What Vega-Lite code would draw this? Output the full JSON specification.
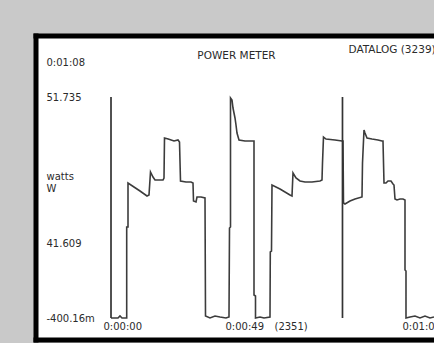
{
  "$schema": "https://vega.github.io/schema/vega-lite/v6.json",
  "width": 398.5,
  "height": 304,
  "autosize": {"type": "none"},
  "padding": {"left": 35.5, "top": 35.5, "right": 0, "bottom": 3.5},
  "background": "#c9c9c9",
  "config": {
    "view": {"fill": "white", "stroke": null},
    "axis": {
      "labelFont": "DejaVu Sans",
      "labelFontSize": 10,
      "labelColor": "#2b2b2b",
      "ticks": false,
      "tickSize": 0,
      "grid": false,
      "domainColor": "#000000",
      "domainWidth": 5,
      "domainCap": "square",
      "labelOverlap": false,
      "labelFlush": false,
      "labelBound": false
    }
  },
  "datasets": {
    "trace": [
      {"i": 1, "t": 0, "v": -0.4},
      {"i": 2, "t": 1.591, "v": -0.4},
      {"i": 3, "t": 2.045, "v": 0.72},
      {"i": 4, "t": 2.5, "v": -0.4},
      {"i": 5, "t": 3.568, "v": -0.4},
      {"i": 6, "t": 3.568, "v": 42.719},
      {"i": 7, "t": 3.864, "v": 42.719},
      {"i": 8, "t": 3.864, "v": 45.77},
      {"i": 9, "t": 6.591, "v": 45.216},
      {"i": 10, "t": 8.182, "v": 44.869},
      {"i": 11, "t": 8.636, "v": 44.938},
      {"i": 12, "t": 8.977, "v": 46.533},
      {"i": 13, "t": 9.545, "v": 46.187},
      {"i": 14, "t": 10.0, "v": 45.978},
      {"i": 15, "t": 11.818, "v": 45.978},
      {"i": 16, "t": 12.045, "v": 46.117},
      {"i": 17, "t": 12.159, "v": 48.891},
      {"i": 18, "t": 13.0, "v": 48.822},
      {"i": 19, "t": 14.318, "v": 48.683},
      {"i": 20, "t": 15.227, "v": 48.753},
      {"i": 21, "t": 15.568, "v": 48.614},
      {"i": 22, "t": 15.795, "v": 45.909},
      {"i": 23, "t": 17.045, "v": 45.84},
      {"i": 24, "t": 18.182, "v": 45.84},
      {"i": 25, "t": 18.636, "v": 45.77},
      {"i": 26, "t": 18.75, "v": 44.522},
      {"i": 27, "t": 19.318, "v": 44.453},
      {"i": 28, "t": 19.545, "v": 44.799},
      {"i": 29, "t": 20.455, "v": 44.799},
      {"i": 30, "t": 21.364, "v": 44.73},
      {"i": 31, "t": 21.477, "v": 0.72},
      {"i": 32, "t": 22.5, "v": -0.4},
      {"i": 33, "t": 23.636, "v": 0.72},
      {"i": 34, "t": 24.773, "v": 0.16},
      {"i": 35, "t": 26.136, "v": -0.4},
      {"i": 36, "t": 26.818, "v": 0.16},
      {"i": 37, "t": 26.932, "v": 42.649},
      {"i": 38, "t": 27.159, "v": 42.719},
      {"i": 39, "t": 27.159, "v": 51.666},
      {"i": 40, "t": 27.5, "v": 51.527},
      {"i": 41, "t": 27.727, "v": 50.972},
      {"i": 42, "t": 28.182, "v": 50.279},
      {"i": 43, "t": 28.409, "v": 49.793},
      {"i": 44, "t": 28.636, "v": 49.238},
      {"i": 45, "t": 29.091, "v": 48.753},
      {"i": 46, "t": 30.455, "v": 48.683},
      {"i": 47, "t": 32.5, "v": 48.683},
      {"i": 48, "t": 32.5, "v": 12.483},
      {"i": 49, "t": 32.841, "v": 11.923},
      {"i": 50, "t": 32.841, "v": -0.4},
      {"i": 51, "t": 33.864, "v": 0.16},
      {"i": 52, "t": 34.773, "v": -0.4},
      {"i": 53, "t": 36.136, "v": 0.16},
      {"i": 54, "t": 36.205, "v": 36.568},
      {"i": 55, "t": 36.477, "v": 37.128},
      {"i": 56, "t": 36.591, "v": 45.632},
      {"i": 57, "t": 38.409, "v": 45.354},
      {"i": 58, "t": 40.682, "v": 44.938},
      {"i": 59, "t": 41.136, "v": 44.869},
      {"i": 60, "t": 41.364, "v": 46.464},
      {"i": 61, "t": 42.045, "v": 46.117},
      {"i": 62, "t": 42.955, "v": 45.909},
      {"i": 63, "t": 44.091, "v": 45.84},
      {"i": 64, "t": 45.682, "v": 45.84},
      {"i": 65, "t": 47.5, "v": 45.909},
      {"i": 66, "t": 47.955, "v": 45.978},
      {"i": 67, "t": 48.068, "v": 47.158},
      {"i": 68, "t": 48.295, "v": 48.961},
      {"i": 69, "t": 48.864, "v": 48.822},
      {"i": 70, "t": 50.909, "v": 48.753},
      {"i": 71, "t": 52.5, "v": 48.683},
      {"i": 72, "t": 52.727, "v": 48.683},
      {"i": 73, "t": 52.841, "v": 44.383},
      {"i": 74, "t": 53.182, "v": 44.314},
      {"i": 75, "t": 54.318, "v": 44.522},
      {"i": 76, "t": 55.455, "v": 44.661},
      {"i": 77, "t": 57.045, "v": 44.799},
      {"i": 78, "t": 57.159, "v": 47.158},
      {"i": 79, "t": 57.5, "v": 49.446},
      {"i": 80, "t": 57.727, "v": 49.238},
      {"i": 81, "t": 58.182, "v": 48.891},
      {"i": 82, "t": 59.318, "v": 48.822},
      {"i": 83, "t": 60.682, "v": 48.753},
      {"i": 84, "t": 61.591, "v": 48.683},
      {"i": 85, "t": 61.818, "v": 48.683},
      {"i": 86, "t": 62.045, "v": 45.77},
      {"i": 87, "t": 62.5, "v": 45.77},
      {"i": 88, "t": 62.955, "v": 45.909},
      {"i": 89, "t": 63.636, "v": 45.909},
      {"i": 90, "t": 64.091, "v": 45.701},
      {"i": 91, "t": 64.318, "v": 45.632},
      {"i": 92, "t": 64.545, "v": 44.661},
      {"i": 93, "t": 65.0, "v": 44.591},
      {"i": 94, "t": 65.682, "v": 44.661},
      {"i": 95, "t": 66.364, "v": 44.661},
      {"i": 96, "t": 66.818, "v": 44.591},
      {"i": 97, "t": 66.818, "v": 26.486},
      {"i": 98, "t": 67.045, "v": 25.926},
      {"i": 99, "t": 67.045, "v": -0.4},
      {"i": 100, "t": 67.955, "v": 0.16},
      {"i": 101, "t": 69.091, "v": 0.72},
      {"i": 102, "t": 70.227, "v": -0.4},
      {"i": 103, "t": 71.364, "v": 0.72},
      {"i": 104, "t": 72.5, "v": -0.4},
      {"i": 105, "t": 73.409, "v": 0.16}
    ],
    "cursors": [{"t": 0}, {"t": 52.61}]
  },
  "layer": [
    {
      "data": {"name": "trace"},
      "mark": {"type": "line", "color": "#3c3c3c", "strokeWidth": 1.6, "clip": true},
      "encoding": {
        "x": {
          "field": "t",
          "type": "quantitative",
          "title": null,
          "scale": {"domain": [-17.16, 73.41], "nice": false, "zero": false},
          "axis": {
            "orient": "bottom",
            "values": [-1.818, 25.909, 37.045, 66.136],
            "labelExpr": "datum.value < 5 ? '0:00:00' : datum.value < 30 ? '0:00:49' : datum.value < 50 ? '(2351)' : '0:01:08'",
            "labelAlign": "left",
            "labelBaseline": "middle",
            "labelPadding": -13
          }
        },
        "y": {
          "field": "v",
          "type": "quantitative",
          "title": null,
          "scale": {
            "domain": [-12.443, -0.40016, 41.609, 51.735, 56.0],
            "range": [304, 282.5, 207.5, 61.5, 0],
            "nice": false,
            "zero": false
          },
          "axis": {
            "orient": "left",
            "values": [54.16, 51.735, 46.19, 41.609, -0.40016],
            "labelExpr": "datum.value > 53 ? '0:01:08' : datum.value > 50 ? '51.735' : datum.value > 44 ? ['watts', 'W'] : datum.value > 40 ? '41.609' : '-400.16m'",
            "labelAlign": "left",
            "labelBaseline": "middle",
            "labelPadding": -10.5,
            "labelLineHeight": 12
          }
        },
        "order": {"field": "i", "type": "quantitative"}
      }
    },
    {
      "data": {"name": "cursors"},
      "mark": {"type": "rule", "color": "#333333", "strokeWidth": 1.7},
      "encoding": {
        "x": {
          "field": "t",
          "type": "quantitative",
          "title": null,
          "axis": {
            "orient": "top",
            "values": [28.41, 53.86],
            "labelExpr": "datum.value < 40 ? 'POWER METER' : 'DATALOG (3239)'",
            "labelAlign": {"condition": {"test": "datum.value > 40", "value": "left"}, "value": "center"},
            "labelBaseline": "middle",
            "labelPadding": {"condition": {"test": "datum.value > 40", "value": -13.5}, "value": -19.5},
            "labelFontSize": 10.5
          }
        },
        "y": {"datum": 51.735, "type": "quantitative", "title": null},
        "y2": {"datum": -0.40016}
      }
    }
  ],
  "resolve": {"axis": {"x": "independent"}}
}
